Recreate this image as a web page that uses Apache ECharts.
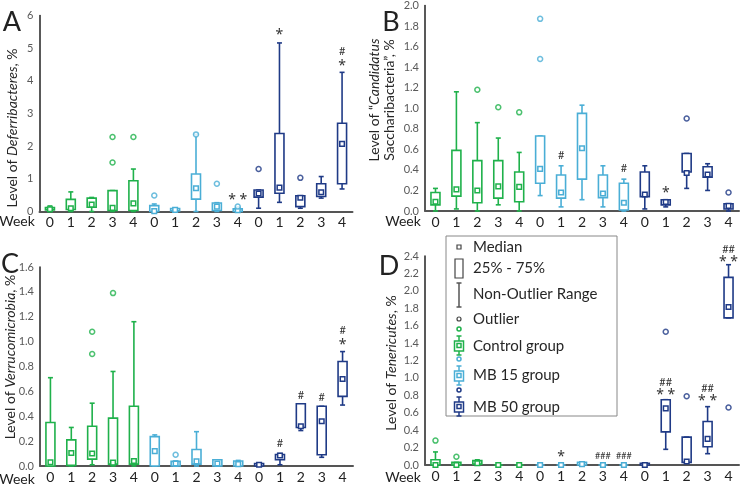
<!DOCTYPE html>
<html>
<head>
<meta charset="utf-8">
<script src="https://cdn.jsdelivr.net/npm/echarts@6/dist/echarts.min.js"></script>
<style>
  html, body { margin: 0; padding: 0; background: #fff; }
  #chart { width: 740px; height: 484px; }
</style>
</head>
<body>
<div id="chart"></div>
<script>
const weeks = ['0', '1', '2', '3', '4'];
const groupNames = ['Control group', 'MB 15 group', 'MB 50 group'];
const groupColors = ['#1fb14b', '#4aaed6', '#1f3a86'];
const categories = [].concat(weeks, weeks, weeks);

// box values per category: [min, q1, median, q3, max]
const boxA = [
  [0, 0.05, 0.07, 0.12, 0.17], [0, 0.06, 0.1, 0.37, 0.6], [0, 0.13, 0.21, 0.41, 0.43],
  [0, 0.03, 0.11, 0.64, 0.64], [0, 0.03, 0.25, 0.94, 1.3],
  [0, 0, 0.01, 0.18, 0.23], [0, 0.02, 0.05, 0.09, 0.1], [0, 0.38, 0.71, 1.15, 2.36],
  [0, 0.03, 0.15, 0.26, 0.27], [0, 0, 0.04, 0.08, 0.14],
  [0.1, 0.44, 0.55, 0.66, 0.66], [0.28, 0.56, 0.73, 2.39, 5.16], [0.1, 0.15, 0.42, 0.48, 0.48],
  [0.41, 0.46, 0.59, 0.85, 1.07], [0.69, 0.85, 2.07, 2.7, 4.26]
];
const outA = [[3, 2.28], [3, 1.5], [4, 2.28], [5, 0.49], [7, 2.36], [8, 0.85], [9, 0.15], [10, 1.3], [12, 1.03]];
const noteA = [[9, 0.44, '* *'], [11, 5.5, '*'], [14, 4.56, '*'], [14, 4.9, '#']];

const boxB = [
  [0, 0.06, 0.09, 0.18, 0.22], [0.02, 0.145, 0.21, 0.59, 1.16], [0, 0.08, 0.2, 0.49, 0.86],
  [0.06, 0.125, 0.24, 0.49, 0.71], [0, 0.09, 0.235, 0.38, 0.57],
  [0.15, 0.27, 0.41, 0.73, 0.73], [0.04, 0.125, 0.18, 0.35, 0.44], [0.11, 0.31, 0.61, 0.95, 1.03],
  [0.04, 0.13, 0.17, 0.35, 0.44], [0, 0.01, 0.08, 0.27, 0.31],
  [0.02, 0.14, 0.16, 0.38, 0.44], [0.04, 0.06, 0.087, 0.11, 0.11], [0.22, 0.38, 0.37, 0.56, 0.56],
  [0.2, 0.33, 0.355, 0.43, 0.46], [0, 0.02, 0.05, 0.07, 0.07]
];
const outB = [[2, 1.18], [3, 1.01], [4, 0.96], [5, 1.87], [5, 1.48], [12, 0.9], [14, 0.18]];
const noteB = [[6, 0.54, '#'], [9, 0.41, '#'], [11, 0.2, '*']];

const boxC = [
  [0, 0, 0.03, 0.35, 0.71], [0, 0.005, 0.105, 0.21, 0.31], [0.01, 0.055, 0.1, 0.32, 0.505],
  [0, 0.015, 0.027, 0.385, 0.76], [0, 0.015, 0.04, 0.48, 1.16],
  [0, 0, 0.12, 0.236, 0.25], [0, 0, 0.02, 0.037, 0.04], [0, 0.015, 0.037, 0.133, 0.276],
  [0, 0, 0.02, 0.05, 0.05], [0, 0, 0.015, 0.04, 0.045],
  [0, 0, 0.01, 0.02, 0.02], [0.01, 0.05, 0.085, 0.093, 0.1], [0.285, 0.31, 0.32, 0.5, 0.5],
  [0.07, 0.09, 0.36, 0.48, 0.48], [0.49, 0.56, 0.7, 0.84, 0.92]
];
const outC = [[2, 1.08], [2, 0.9], [3, 1.39], [6, 0.09]];
const noteC = [[11, 0.185, '#'], [12, 0.57, '#'], [13, 0.55, '#'], [14, 1.0, '*'], [14, 1.09, '#']];

const boxD = [
  [0, 0, 0, 0.06, 0.15], [0, 0, 0, 0.03, 0.03], [0.01, 0.01, 0.02, 0.05, 0.06],
  [0, 0, 0, 0, 0], [0, 0, 0, 0, 0],
  [0, 0, 0, 0, 0], [0, 0, 0, 0, 0], [0, 0, 0.01, 0.03, 0.03],
  [0, 0, 0, 0, 0], [0, 0, 0, 0, 0],
  [0, 0, 0, 0.02, 0.02], [0.18, 0.38, 0.65, 0.75, 0.75], [0.03, 0.03, 0.04, 0.32, 0.32],
  [0.13, 0.21, 0.3, 0.5, 0.67], [1.69, 1.69, 1.815, 2.155, 2.3]
];
const outD = [[0, 0.28], [1, 0.095], [11, 1.53], [12, 0.79], [14, 0.66]];
const noteD = [[6, 0.13, '*'], [8, 0.1, '###'], [9, 0.1, '###'], [11, 0.84, '* *'], [11, 0.95, '##'],
  [13, 0.77, '* *'], [13, 0.88, '##'], [14, 2.37, '* *'], [14, 2.48, '##']];

const yMax = [6, 2, 1.6, 2.4];
const yStep = [1, 0.2, 0.2, 0.2];

const FONT = 'Lato, "Open Sans", sans-serif';
const chart = echarts.init(document.getElementById('chart'));

function renderBox(params, api) {
  const x = api.value(0);
  const p = [1, 2, 3, 4, 5].map(i => api.coord([x, api.value(i)]));
  const cx = p[0][0];
  const color = api.visual('color');
  const hw = 4.5, cw = 2.5, ms = 2.3;
  const st = { stroke: color, lineWidth: 1.6, fill: null };
  return {
    type: 'group',
    children: [
      { type: 'line', shape: { x1: cx, y1: p[0][1], x2: cx, y2: p[1][1] }, style: st },
      { type: 'line', shape: { x1: cx, y1: p[3][1], x2: cx, y2: p[4][1] }, style: st },
      { type: 'line', shape: { x1: cx - cw, y1: p[0][1], x2: cx + cw, y2: p[0][1] }, style: st },
      { type: 'line', shape: { x1: cx - cw, y1: p[4][1], x2: cx + cw, y2: p[4][1] }, style: st },
      { type: 'rect', shape: { x: cx - hw, y: p[3][1], width: hw * 2, height: p[1][1] - p[3][1] },
        style: { stroke: color, lineWidth: 1.6, fill: '#fff' } },
      { type: 'rect', shape: { x: cx - ms, y: p[2][1] - ms, width: ms * 2, height: ms * 2 },
        style: { stroke: color, lineWidth: 1.5, fill: '#fff' } }
    ]
  };
}

function noteRenderer(notes) {
  return function (params, api) {
    const p = api.coord([api.value(0), api.value(1)]);
    const txt = notes[params.dataIndex][2];
    const star = txt.indexOf('*') >= 0;
    const font = star ? '14px "Noto Sans", sans-serif' : (txt.length > 2 ? '9px ' : '11px ') + FONT;
    return {
      type: 'text', x: p[0], y: p[1] + (star ? 3 : 0),
      style: { text: txt, fill: '#333', font: font, align: 'center', verticalAlign: 'middle' }
    };
  };
}

const grids = [
  { left: 39.5, top: 15.5, width: 313, height: 196 },
  { left: 425, top: 4, width: 314, height: 207 },
  { left: 40, top: 267, width: 313, height: 201 },
  { left: 425, top: 256, width: 314, height: 209 }
];

const xAxes = grids.map((g, i) => ({
  type: 'category', gridIndex: i, data: categories,
  axisLine: { lineStyle: { color: '#555', width: 2 } },
  axisTick: { show: false },
  axisLabel: { margin: 4, fontSize: 14, color: '#222', fontFamily: FONT, interval: 0 }
}));

const yAxes = grids.map((g, i) => ({
  type: 'value', gridIndex: i, min: 0, max: yMax[i], interval: yStep[i],
  splitLine: { show: false },
  axisLine: { show: true, lineStyle: { color: '#222', width: 1.5 } },
  axisTick: { show: false },
  axisLabel: {
    margin: 6, fontSize: 11, color: '#595959', fontFamily: FONT,
    formatter: v => i === 0 ? String(v) : v.toFixed(1)
  }
}));

const panels = [[boxA, outA, noteA], [boxB, outB, noteB], [boxC, outC, noteC], [boxD, outD, noteD]];
const series = [];
panels.forEach(([boxes, outs, notes], pi) => {
  groupNames.forEach((name, g) => {
    series.push({
      type: 'custom', name: name, xAxisIndex: pi, yAxisIndex: pi,
      itemStyle: { color: groupColors[g] },
      renderItem: renderBox,
      data: boxes.slice(g * 5, g * 5 + 5).map((b, k) => [g * 5 + k].concat(b))
    });
  });
  series.push({
    type: 'scatter', xAxisIndex: pi, yAxisIndex: pi, clip: false,
    symbol: 'circle', symbolSize: 5, silent: true,
    data: outs.map(o => ({ value: o, itemStyle: { color: '#fff', borderColor: groupColors[Math.floor(o[0] / 5)], borderWidth: 1.5 } }))
  });
  series.push({
    type: 'custom', xAxisIndex: pi, yAxisIndex: pi, clip: false,
    renderItem: noteRenderer(notes),
    data: notes.map(n => [n[0], n[1]])
  });
});

function txt(x, y, text, font, extra) {
  return Object.assign({ type: 'text', x: x, y: y,
    style: { text: text, font: font, fill: '#222', align: 'center', verticalAlign: 'middle' } }, extra || {});
}

function yTitle(x, y, text) {
  return {
    type: 'text', x: x, y: y, rotation: Math.PI / 2,
    style: {
      text: text, align: 'center', verticalAlign: 'middle', fill: '#262626',
      font: '14px ' + FONT, lineHeight: 15,
      rich: {
        n: { fontSize: 14, fontFamily: FONT, fill: '#262626' },
        i: { fontSize: 14, fontFamily: FONT, fontStyle: 'italic', fill: '#262626' }
      }
    }
  };
}

function groupIcon(cy, color) {
  const st = { stroke: color, lineWidth: 1.5, fill: '#fff' };
  return [
    { type: 'circle', shape: { cx: 459, cy: cy, r: 2 }, style: st },
    { type: 'line', shape: { x1: 459, y1: cy + 7, x2: 459, y2: cy + 26 }, style: st },
    { type: 'line', shape: { x1: 456.5, y1: cy + 7, x2: 461.5, y2: cy + 7 }, style: st },
    { type: 'line', shape: { x1: 456.5, y1: cy + 26, x2: 461.5, y2: cy + 26 }, style: st },
    { type: 'rect', shape: { x: 454.5, y: cy + 12, width: 9, height: 10 }, style: st },
    { type: 'rect', shape: { x: 457, y: cy + 14.5, width: 4, height: 4 }, style: st }
  ];
}

const legendFont = '15px ' + FONT;
const legendItems = [
  { type: 'rect', shape: { x: 446, y: 236, width: 171, height: 180 }, style: { stroke: '#888', lineWidth: 1, fill: '#fff' } },
  { type: 'rect', shape: { x: 457, y: 245, width: 4, height: 4 }, style: { stroke: '#444', lineWidth: 1.2, fill: '#fff' } },
  { type: 'rect', shape: { x: 455, y: 259, width: 8, height: 19 }, style: { stroke: '#444', lineWidth: 1.2, fill: '#fff' } },
  { type: 'line', shape: { x1: 459, y1: 283, x2: 459, y2: 307 }, style: { stroke: '#555', lineWidth: 1.5 } },
  { type: 'line', shape: { x1: 456.5, y1: 283, x2: 461.5, y2: 283 }, style: { stroke: '#555', lineWidth: 1.5 } },
  { type: 'line', shape: { x1: 456.5, y1: 307, x2: 461.5, y2: 307 }, style: { stroke: '#555', lineWidth: 1.5 } },
  { type: 'circle', shape: { cx: 459, cy: 319, r: 2 }, style: { stroke: '#444', lineWidth: 1.2, fill: '#fff' } }
].concat(groupIcon(329, groupColors[0]), groupIcon(359, groupColors[1]), groupIcon(390, groupColors[2]));

const legendLabels = ['Median', '25% - 75%', 'Non-Outlier Range', 'Outlier'].concat(groupNames);
const legendY = [247, 268, 294, 319, 346, 375, 407];
legendLabels.forEach((l, i) => {
  legendItems.push({ type: 'text', x: 473, y: legendY[i],
    style: { text: l, font: legendFont, fill: '#262626', align: 'left', verticalAlign: 'middle' } });
});

const graphic = [
  txt(12, 22, 'A', '27px ' + FONT),
  txt(391, 22, 'B', '27px ' + FONT),
  txt(10, 264, 'C', '27px ' + FONT),
  txt(389, 266, 'D', '27px ' + FONT),
  txt(17, 221.5, 'Week', '14px ' + FONT),
  txt(403, 221.5, 'Week', '14px ' + FONT),
  txt(17, 479, 'Week', '14px ' + FONT),
  txt(403, 477, 'Week', '14px ' + FONT),
  yTitle(12, 128, '{n|Level of }{i|Deferribacteres}{n|, %}'),
  yTitle(382, 100, '{n|Level of “}{i|Candidatus}\n{n|Saccharibacteria”, %}'),
  yTitle(10, 357, '{n|Level of }{i|Verrucomicrobia}{n|, %}'),
  yTitle(391, 363, '{n|Level of }{i|Tenericutes}{n|, %}')
].concat(legendItems.map(e => Object.assign({ z: 100 }, e)));

chart.setOption({
  animation: false,
  grid: grids,
  xAxis: xAxes,
  yAxis: yAxes,
  series: series,
  graphic: graphic
});
</script>
</body>
</html>
